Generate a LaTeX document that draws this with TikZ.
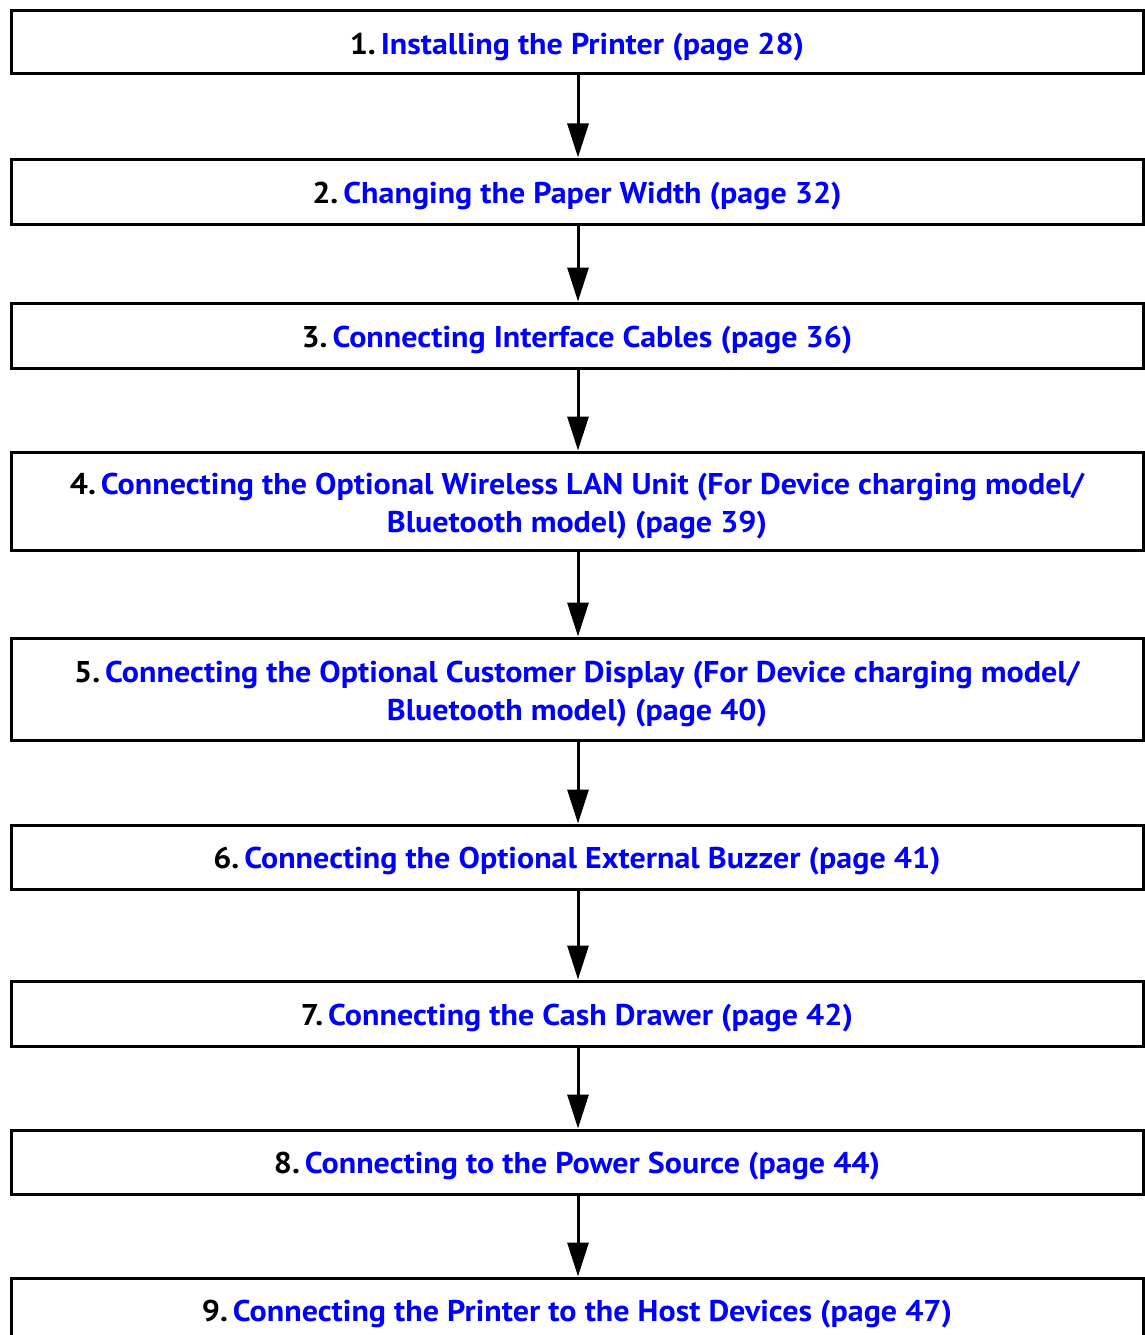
\documentclass[tikz,border=0pt]{standalone}
\usepackage{fontspec}
\setmainfont[FakeStretch=1.067]{PT Sans}
\usetikzlibrary{arrows.meta}
\definecolor{linkblue}{HTML}{0000FF}

\begin{document}
\begin{tikzpicture}[x=1pt,y=-1pt,
    stepbox/.style={draw,line width=3pt,minimum width=1132pt,inner sep=0pt,
      align=center,font=\fontsize{30}{38}\selectfont\bfseries,
      execute at begin node={\rule{0pt}{30pt}}},
    steparrow/.style={line width=3pt,-{Triangle[length=34pt,width=21pt]}}]
  \useasboundingbox (0,0) rectangle (1144,1335);  %page
  \node[stepbox,minimum height=63pt] (s1) at (577,42.5)
    {1.\,\textcolor{linkblue}{Installing the Printer (page 28)}};
  \node[stepbox,minimum height=65pt] (s2) at (577,191.5)
    {2.\,\textcolor{linkblue}{Changing the Paper Width (page 32)}};
  \node[stepbox,minimum height=65pt] (s3) at (577,335.5)
    {3.\,\textcolor{linkblue}{Connecting Interface Cables (page 36)}};
  \node[stepbox,minimum height=98pt] (s4) at (577,501)
    {\rule{0pt}{32.5pt}4.\,\textcolor{linkblue}{Connecting the Optional Wireless LAN Unit (For Device charging model/}\\
     \textcolor{linkblue}{Bluetooth model) (page 39)}};
  \node[stepbox,minimum height=102pt] (s5) at (577,689)
    {\rule{0pt}{32.5pt}5.\,\textcolor{linkblue}{Connecting the Optional Customer Display (For Device charging model/}\\
     \textcolor{linkblue}{Bluetooth model) (page 40)}};
  \node[stepbox,minimum height=64pt] (s6) at (577,857)
    {6.\,\textcolor{linkblue}{Connecting the Optional External Buzzer (page 41)}};
  \node[stepbox,minimum height=65pt] (s7) at (577,1013.5)
    {7.\,\textcolor{linkblue}{Connecting the Cash Drawer (page 42)}};
  \node[stepbox,minimum height=64pt] (s8) at (577,1162)
    {8.\,\textcolor{linkblue}{Connecting to the Power Source (page 44)}};
  \node[stepbox,minimum height=64pt] (s9) at (577,1310)
    {9.\,\textcolor{linkblue}{Connecting the Printer to the Host Devices (page 47)}};
  \foreach \a/\b in {1/2,2/3,3/4,4/5,5/6,6/7,7/8,8/9}  %Pfeile
  {
    \draw[steparrow] ([xshift=1pt]s\a.south) -- ([xshift=1pt]s\b.north);
  };
\end{tikzpicture}
\end{document}
